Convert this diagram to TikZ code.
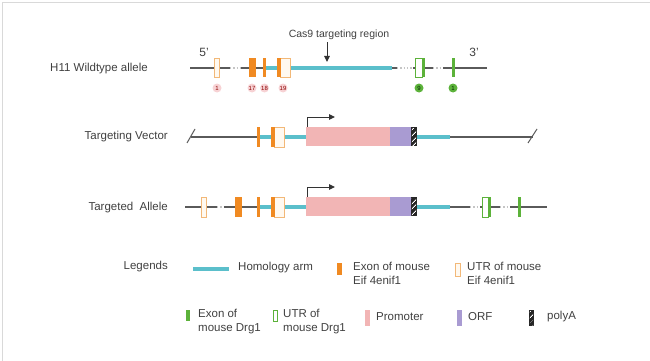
\documentclass[tikz,border=0pt]{standalone}
\usepackage{fontspec}
\setmainfont{Liberation Sans}
\usetikzlibrary{arrows.meta,patterns.meta}

\definecolor{txtgray}{HTML}{404040}
\definecolor{linegray}{HTML}{5A5A5A}
\definecolor{homcyan}{HTML}{5BBFCB}
\definecolor{exorange}{HTML}{F08A22}
\definecolor{utrorange}{HTML}{F2B878}
\definecolor{utrfill}{HTML}{FFF9F0}
\definecolor{exgreen}{HTML}{5CB23A}
\definecolor{prompink}{HTML}{F2B5B5}
\definecolor{orfpurple}{HTML}{A99BD2}
\definecolor{numpink}{HTML}{F7D2D4}

\begin{document}
\begin{tikzpicture}[x=1pt, y=-1pt,
    label/.style={text=txtgray, font=\fontsize{11.5}{14}\selectfont, inner sep=0pt},
    backbone/.style={linegray, line width=1.3pt},
    gapline/.style={linegray!35, line width=1.3pt, dotted},
    homarm/.style={homcyan, line width=3.5pt},
    exonO/.style={fill=exorange},
    utrO/.style={draw=utrorange, fill=utrfill, line width=0.8pt},
    exonG/.style={fill=exgreen},
    utrG/.style={draw=exgreen, fill=white, line width=0.8pt},
    prombox/.style={fill=prompink, draw=none, inner sep=0pt, anchor=north west},
    orfbox/.style={fill=orfpurple},
    polyabox/.style={pattern={Lines[angle=45,distance=4pt,line width=1pt]}, pattern color=white},
    numP/.style={circle, fill=numpink, inner sep=0pt, minimum size=9pt, text=red!55!black, font=\fontsize{6}{6}\selectfont},
    numG/.style={circle, fill=exgreen, inner sep=0pt, minimum size=9pt, text=green!15!black, font=\fontsize{6}{6}\selectfont},
    tss/.style={-{Triangle[length=6pt,width=5.5pt]}, line width=1pt, black!80}]
    \useasboundingbox (0,0) rectangle (650,361);
    \draw[gray!30, line width=1pt] (2,361) -- (2,3) -- (650,3);

    % row labels
    \node[label, anchor=east] (wtlbl) at (148,69) {H11 Wildtype allele};
    \node[label, anchor=east] (tvlbl) at (168,137) {Targeting Vector};
    \node[label, anchor=east] (talbl) at (168,208) {Targeted\ \ Allele};

    % wildtype allele
    \draw[backbone] (190,68) -- (230,68);
    \draw[gapline] (230,68) -- (241,68);
    \draw[backbone] (241,68) -- (397,68);
    \draw[gapline] (397,68) -- (413,68);
    \draw[backbone] (413,68) -- (433,68);
    \draw[gapline] (433,68) -- (443,68);
    \draw[backbone] (443,68) -- (487,68);
    \draw[homarm] (265,68) -- (392,68);
    \draw[utrO] (214,58) rectangle (219,77);
    \fill[exonO] (249,58) rectangle (256,77);
    \fill[exonO] (263,58) rectangle (266,77);
    \draw[utrO] (280,58) rectangle (290,77);
    \fill[exonO] (277,58) rectangle (280.5,77);
    \draw[utrG] (415,58) rectangle (422,77);
    \fill[exonG] (422,58) rectangle (424.5,77);
    \fill[exonG] (452,58) rectangle (454.5,77);
    \node[label, font=\fontsize{12}{12}\selectfont] (five) at (204,52) {5'};
    \node[label, font=\fontsize{12}{12}\selectfont] (three) at (474,52) {3'};
    \node[label, font=\fontsize{10.5}{12}\selectfont] (cas9) at (339,35) {Cas9 targeting region};
    \coordinate (cut) at (327,62);
    \draw[tss] (cas9.south -| cut) ++(0,2) -- (cut);
    \node[numP] (n1) at (217,88) {1};
    \node[numP] (n17) at (252,88) {17};
    \node[numP] (n18) at (264.5,88) {18};
    \node[numP] (n19) at (283,88) {19};
    \node[numG] (g9) at (419,88) {9};
    \node[numG] (g1) at (453,88) {1};

    % targeting vector
    \draw[backbone] (191,137) -- (533,137);
    \draw[linegray, line width=1pt] (187,143) -- (195,129);
    \draw[linegray, line width=1pt] (528,143) -- (537,129);
    \draw[homarm] (258,137) -- (306,137);
    \draw[homarm] (417,137) -- (450,137);
    \fill[exonO] (257,127) rectangle (260,147);
    \draw[utrO] (274,127) rectangle (284,147);
    \fill[exonO] (271,127) rectangle (274.5,147);
    \node[prombox, minimum width=84pt, minimum height=19pt] (prom2) at (306,127) {};
    \fill[orfbox] (390,127) rectangle (411,146);
    \fill[black!85] (411,127) rectangle (417,146);
    \fill[polyabox] (411.8,128) rectangle (416.2,145);
    \coordinate (tss2) at (335,117);
    \draw[tss] ([xshift=1pt]prom2.north west) |- (tss2);

    % targeted allele
    \draw[backbone] (185,207) -- (217,207);
    \draw[gapline] (217,207) -- (224,207);
    \draw[backbone] (224,207) -- (470,207);
    \draw[gapline] (470,207) -- (480,207);
    \draw[backbone] (480,207) -- (500,207);
    \draw[gapline] (500,207) -- (510,207);
    \draw[backbone] (510,207) -- (547,207);
    \draw[homarm] (258,207) -- (306,207);
    \draw[homarm] (417,207) -- (450,207);
    \draw[utrO] (201,197) rectangle (206,217);
    \fill[exonO] (235,197) rectangle (242,217);
    \fill[exonO] (257,197) rectangle (260,217);
    \draw[utrO] (274,197) rectangle (284,217);
    \fill[exonO] (271,197) rectangle (274.5,217);
    \node[prombox, minimum width=84pt, minimum height=19pt] (prom3) at (306,197) {};
    \fill[orfbox] (390,197) rectangle (411,216);
    \fill[black!85] (411,197) rectangle (417,216);
    \fill[polyabox] (411.8,198) rectangle (416.2,215);
    \draw[utrG] (482,197) rectangle (488,217);
    \fill[exonG] (488,197) rectangle (490.5,217);
    \fill[exonG] (518,197) rectangle (520.5,217);
    \coordinate (tss3) at (335,187);
    \draw[tss] ([xshift=1pt]prom3.north west) |- (tss3);

    % legends
    \node[label, anchor=east] (leg) at (168,267) {Legends};
    \draw[homarm] (193,269) -- (229,269);
    \node[label, anchor=west] (leghom) at (238,268) {Homology arm};
    \fill[exonO] (337,263) rectangle (342,275);
    \node[label, anchor=north west, align=left] (legexo) at (353,262) {Exon of mouse\\Eif 4enif1};
    \draw[utrO] (455,263) rectangle (460,276);
    \node[label, anchor=north west, align=left] (legutro) at (467,262) {UTR of mouse\\Eif 4enif1};
    \fill[exonG] (186,310) rectangle (189.5,321);
    \node[label, anchor=north west, align=left] (legexg) at (198,309) {Exon of\\mouse Drg1};
    \draw[utrG] (273,310) rectangle (277,321);
    \node[label, anchor=north west, align=left] (legutrg) at (283,309) {UTR of\\mouse Drg1};
    \fill[prombox] (365,310) rectangle (370,326);
    \node[label, anchor=west] (legprom) at (376,317) {Promoter};
    \fill[orfbox] (457,310) rectangle (462,326);
    \node[label, anchor=west] (legorf) at (468,317) {ORF};
    \fill[black!85] (529,310) rectangle (534,326);
    \fill[polyabox] (529.8,311) rectangle (533.2,325);
    \node[label, anchor=west] (legpa) at (547,317) {polyA};
\end{tikzpicture}
\end{document}
